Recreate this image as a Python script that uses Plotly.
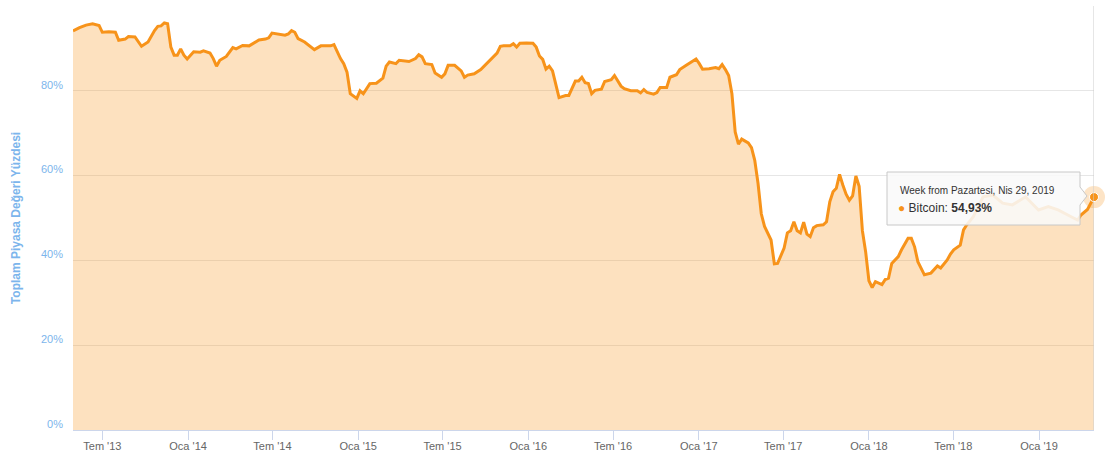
import pandas as pd
import plotly.graph_objects as go

# ---- data (weekly index from week of 2013-04-29, % of total market cap) ----
start_week = "2013-04-29"
weeks = [0, 2, 4, 6, 8, 9, 11, 13, 14, 16, 17, 19, 21, 23, 25, 26, 27, 28, 29, 30,
         31, 32, 33, 34, 35, 37, 39, 40, 42, 43, 44, 45, 47, 49, 50, 52, 54, 57, 59, 60,
         61, 63, 65, 66, 67, 68, 69, 71, 72, 73, 74, 76, 79, 80, 82, 83, 84, 85, 87, 88,
         89, 91, 93, 95, 96, 97, 99, 100, 103, 105, 106, 107, 108, 110, 111, 113, 114, 115, 117, 119,
         120, 121, 123, 125, 127, 129, 130, 131, 132, 134, 135, 136, 137, 139, 141, 142, 143, 144, 145, 146,
         147, 149, 151, 152, 154, 155, 156, 157, 158, 159, 160, 162, 163, 165, 166, 168, 169, 171, 173, 174,
         175, 176, 178, 179, 180, 182, 183, 185, 186, 188, 189, 191, 192, 193, 195, 197, 198, 199, 200, 201,
         202, 203, 204, 205, 207, 208, 209, 210, 211, 212, 214, 215, 216, 217, 218, 219, 220, 221, 222, 223,
         224, 225, 226, 227, 228, 230, 231, 232, 233, 234, 235, 236, 237, 238, 239, 240, 241, 242, 243, 244,
         245, 246, 248, 249, 250, 251, 253, 254, 255, 256, 257, 258, 259, 261, 263, 264, 265, 266, 268, 269,
         270, 272, 273, 274, 276, 279, 282, 285, 288, 292, 296, 299, 302, 306, 308, 309, 311, 313]
btc_share = [94.1, 94.9, 95.5, 95.8, 95.4, 93.8, 93.9, 93.8, 91.9, 92.2, 92.8, 92.7, 90.5, 91.5, 94.2, 95.2, 95.3, 96.0, 95.8, 90.3,
             88.4, 88.4, 89.9, 88.4, 87.5, 89.2, 89.1, 89.4, 88.9, 87.6, 85.8, 87.2, 88.1, 90.2, 89.9, 90.7, 90.6, 92.0, 92.2, 92.5,
             93.6, 93.4, 93.1, 93.4, 94.2, 93.8, 92.3, 91.5, 90.9, 90.3, 89.7, 90.6, 90.6, 90.9, 87.6, 86.4, 84.4, 79.3, 78.2, 80.0,
             79.3, 81.7, 81.8, 83.0, 85.8, 86.8, 86.4, 87.2, 86.9, 87.6, 88.5, 88.0, 86.4, 86.2, 84.2, 83.2, 84.0, 86.0, 86.0, 84.7,
             83.2, 83.7, 84.0, 85.0, 86.5, 88.0, 88.9, 90.5, 90.6, 90.6, 91.1, 90.3, 91.2, 91.3, 91.2, 90.3, 88.2, 87.4, 85.1, 85.8,
             84.7, 78.4, 78.9, 78.9, 82.3, 82.3, 83.2, 81.9, 81.7, 79.3, 80.1, 80.4, 82.2, 82.6, 83.6, 81.1, 80.5, 80.0, 80.0, 79.5,
             80.3, 79.6, 79.2, 79.6, 80.8, 80.8, 83.2, 83.8, 85.0, 86.0, 86.5, 87.5, 86.4, 85.1, 85.2, 85.5, 85.2, 86.2, 85.0, 83.6,
             79.3, 70.3, 67.4, 68.6, 67.7, 66.6, 63.6, 58.2, 51.0, 48.0, 44.8, 39.2, 39.3, 41.3, 42.9, 46.5, 47.0, 49.1, 47.0, 46.5,
             49.0, 46.2, 45.6, 47.7, 48.2, 48.4, 49.1, 53.8, 56.2, 57.0, 60.3, 57.8, 55.6, 54.2, 55.2, 59.9, 57.5, 47.0, 42.0, 35.2,
             33.6, 35.0, 34.3, 35.5, 35.8, 39.3, 40.9, 42.5, 44.0, 45.2, 45.2, 43.2, 39.7, 36.6, 37.0, 37.8, 38.7, 38.2, 40.1, 41.5,
             42.5, 43.6, 47.2, 48.4, 50.3, 55.0, 55.4, 53.5, 53.1, 55.0, 51.9, 52.7, 51.9, 50.3, 49.5, 50.7, 52.0, 54.93]

x_tick_dates = ["2013-07-01", "2014-01-01", "2014-07-01", "2015-01-01", "2015-07-01", "2016-01-01",
                "2016-07-01", "2017-01-01", "2017-07-01", "2018-01-01", "2018-07-01", "2019-01-01"]
x_tick_labels = ["Tem '13", "Oca '14", "Tem '14", "Oca '15", "Tem '15", "Oca '16",
                 "Tem '16", "Oca '17", "Tem '17", "Oca '18", "Tem '18", "Oca '19"]
y_tick_vals = [0, 20, 40, 60, 80, 100]
y_tick_labels = ["0%", "20%", "40%", "60%", "80%", ""]

series_name = "Bitcoin"
tooltip_header = "Week from Pazartesi, Nis 29, 2019"
tooltip_value = "54,93%"
y_title = "Toplam Piyasa Değeri Yüzdesi"

# ---- build ----
dates = [pd.Timestamp(start_week) + pd.Timedelta(days=7 * w) for w in weeks]
ORANGE = "#F7931A"
FONT = "Liberation Sans"

W, H = 1111, 472
ML, MR, MT, MB = 73, 17, 6, 42
PW, PH = W - ML - MR, H - MT - MB


def px(x):
    return (x - ML) / PW


def py(y):
    return (H - MB - y) / PH


fig = go.Figure()
fig.add_trace(go.Scatter(
    x=dates, y=btc_share, mode="lines", name=series_name,
    line=dict(color=ORANGE, width=3),
    fill="tozeroy", fillcolor="rgba(247,147,26,0.28)",
    hoverinfo="skip",
))
# hover halo + marker on last point
fig.add_trace(go.Scatter(
    x=[dates[-1]], y=[btc_share[-1]], mode="markers",
    marker=dict(size=22, color="rgba(247,147,26,0.25)"), hoverinfo="skip", cliponaxis=False,
))
fig.add_trace(go.Scatter(
    x=[dates[-1]], y=[btc_share[-1]], mode="markers",
    marker=dict(size=9, color=ORANGE, line=dict(color="white", width=1)), hoverinfo="skip",
    cliponaxis=False,
))

shapes = []
# crosshair
shapes.append(dict(type="line", xref="x", yref="paper", x0=dates[-1], x1=dates[-1], y0=0, y1=1,
                   line=dict(color="#cccccc", width=1), layer="above"))
# tooltip callout
pts = [(887, 172), (1080, 172), (1080, 187), (1087, 196), (1080, 205), (1080, 225), (887, 225)]
path = "M " + " L ".join(f"{px(a):.5f},{py(b):.5f}" for a, b in pts) + " Z"
shapes.append(dict(type="path", xref="paper", yref="paper", path=path,
                   fillcolor="rgba(249,249,249,0.88)", line=dict(color="#c8c8c8", width=1), layer="above"))

annotations = [
    dict(xref="paper", yref="paper", x=px(898), y=py(190), xanchor="left", yanchor="middle",
         text=tooltip_header, showarrow=False, font=dict(family=FONT, size=10, color="#333333")),
    dict(xref="paper", yref="paper", x=px(896), y=py(208), xanchor="left", yanchor="middle",
         text=f"<span style='color:{ORANGE}'>●</span> {series_name}: <b>{tooltip_value}</b>",
         showarrow=False, font=dict(family=FONT, size=12, color="#333333")),
]

fig.update_layout(
    width=W, height=H,
    margin=dict(l=ML, r=MR, t=MT, b=MB),
    plot_bgcolor="white", paper_bgcolor="white",
    showlegend=False,
    font=dict(family=FONT),
    shapes=shapes,
    annotations=annotations,
    xaxis=dict(
        type="date", range=[pd.Timestamp(start_week), dates[-1]],
        tickvals=x_tick_dates, ticktext=x_tick_labels,
        showgrid=False, zeroline=False,
        showline=True, linecolor="#ccd6eb", linewidth=1,
        ticks="outside", ticklen=9, tickcolor="#ccd6eb",
        ticklabelstandoff=-3,
        tickfont=dict(family=FONT, size=11, color="#666666"),
    ),
    yaxis=dict(
        range=[0, 100], tickvals=y_tick_vals, ticktext=y_tick_labels,
        showgrid=True, gridcolor="#e6e6e6", gridwidth=1, zeroline=False, showline=False,
        ticks="", ticklabelstandoff=9, ticklabelshift=-6,
        tickfont=dict(family=FONT, size=11, color="#7cb5ec"),
        title=dict(text=y_title, standoff=17,
                   font=dict(family=FONT, size=12, color="#7cb5ec", weight="bold")),
    ),
)

fig.write_html("out.html", config={"displayModeBar": False},
               post_script="document.body.style.margin='0';")
